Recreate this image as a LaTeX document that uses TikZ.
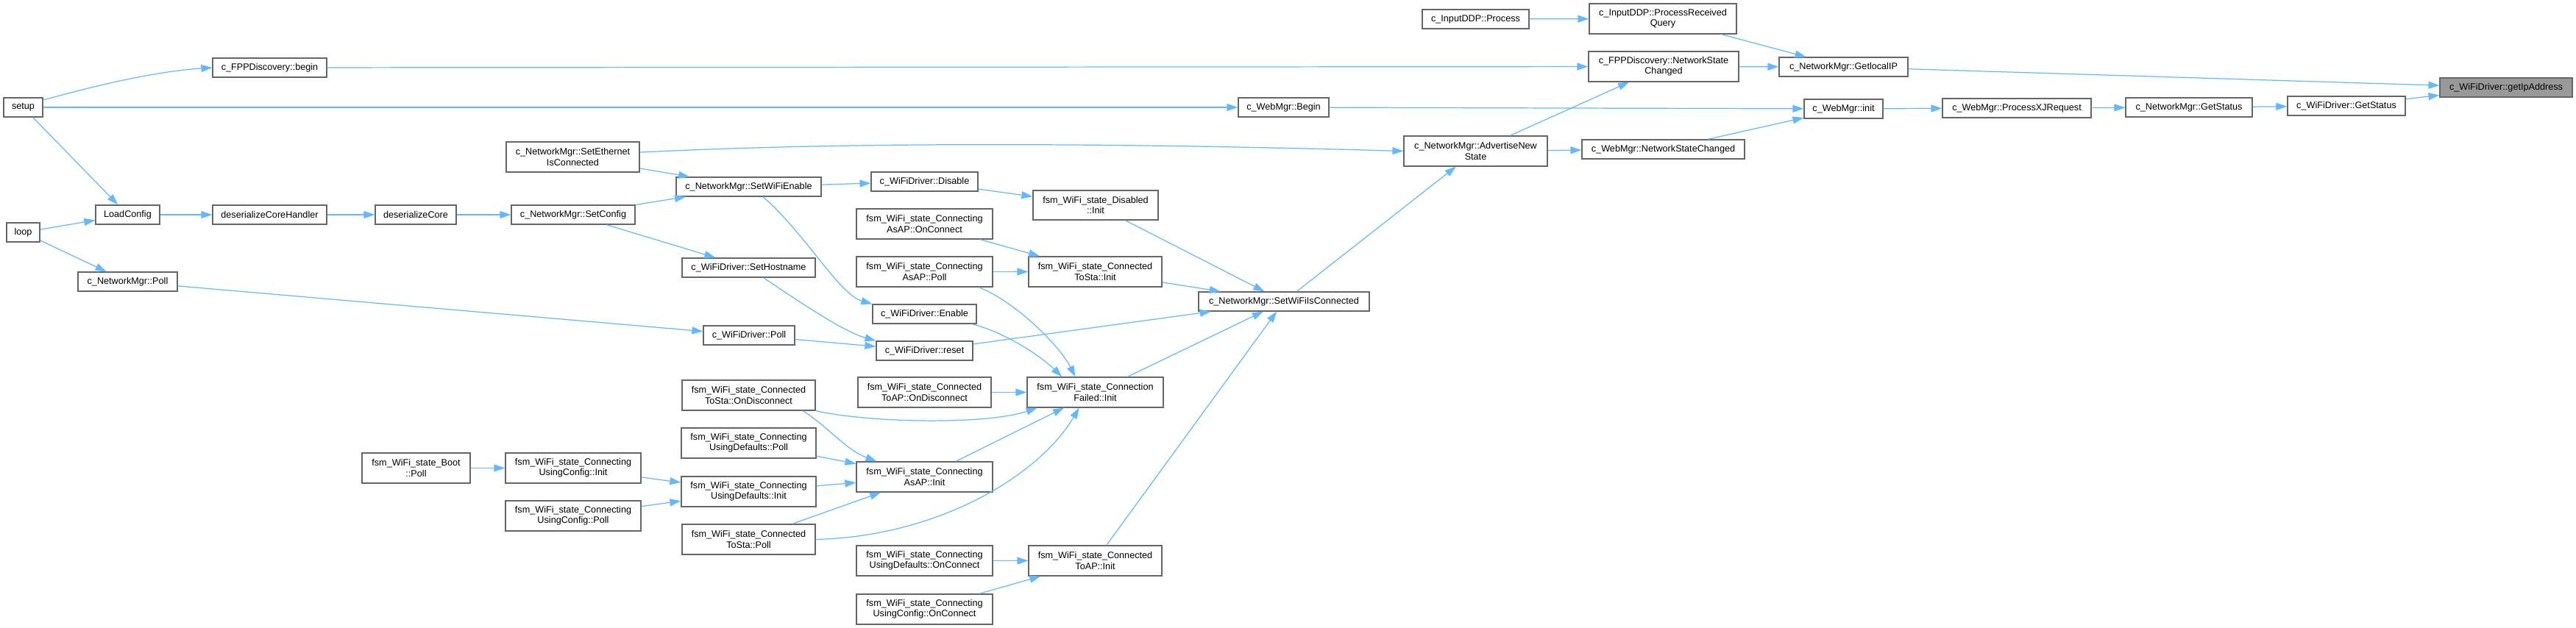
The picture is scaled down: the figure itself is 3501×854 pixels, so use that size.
\documentclass[tikz,border=0pt]{standalone}
\usepackage{fontspec}
\setmainfont{Liberation Sans}
\usetikzlibrary{arrows.meta}
\definecolor{cedge}{RGB}{99,184,255}
\definecolor{cborde}{RGB}{102,102,102}
\definecolor{csel}{RGB}{153,153,153}

\begin{document}
\begin{tikzpicture}[x=0.02cm, y=-0.02cm, >={Triangle[length=0.3cm, width=0.2cm]},
    fn/.style={draw=cborde, line width=0.7pt, fill=white, align=center, inner xsep=2pt, inner ysep=0pt,
      minimum height=0.52cm, font=\fontsize{7.2}{8.1}\selectfont},
    fn2/.style={fn, minimum height=0.82cm},
    edge/.style={->, cedge, line width=0.7pt}]

  \useasboundingbox (0,0) rectangle (3501,854);

  \node[fn, minimum width=1.06cm] (setup)   at (31.5,146)   {setup};
  \node[fn, minimum width=0.90cm] (loop)    at (31.5,316)   {loop};
  \node[fn, minimum width=1.74cm] (lc)      at (173.5,292)  {LoadConfig};
  \node[fn, minimum width=2.70cm] (nmpoll)  at (173.5,383)  {c\_NetworkMgr::Poll};
  \node[fn, minimum width=3.10cm] (fbegin)  at (366.5,92)   {c\_FPPDiscovery::begin};
  \node[fn, minimum width=3.10cm] (dch)     at (366.5,292)  {deserializeCoreHandler};
  \node[fn, minimum width=2.20cm] (dc)      at (565,292)    {deserializeCore};
  \node[fn2, minimum width=2.94cm] (bootp)  at (565.5,636.5) {fsm\_WiFi\_state\_Boot\\::Poll};
  \node[fn2, minimum width=3.62cm] (seth)   at (778.5,213.5) {c\_NetworkMgr::SetEthernet\\IsConnected};
  \node[fn, minimum width=3.36cm] (scfg)    at (779,292)    {c\_NetworkMgr::SetConfig};
  \node[fn2, minimum width=3.68cm] (ucinit) at (779,636.5)  {fsm\_WiFi\_state\_Connecting\\UsingConfig::Init};
  \node[fn2, minimum width=3.68cm] (ucpoll) at (779,701.5)  {fsm\_WiFi\_state\_Connecting\\UsingConfig::Poll};
  \node[fn, minimum width=3.94cm] (swe)     at (1017.5,254) {c\_NetworkMgr::SetWiFiEnable};
  \node[fn, minimum width=3.62cm] (shost)   at (1017.5,364) {c\_WiFiDriver::SetHostname};
  \node[fn, minimum width=2.48cm] (wpoll)   at (1018,456)   {c\_WiFiDriver::Poll};
  \node[fn2, minimum width=3.62cm] (ctsod)  at (1017.5,537.5) {fsm\_WiFi\_state\_Connected\\ToSta::OnDisconnect};
  \node[fn2, minimum width=3.66cm] (udpoll) at (1017.5,602.5) {fsm\_WiFi\_state\_Connecting\\UsingDefaults::Poll};
  \node[fn2, minimum width=3.66cm] (udinit) at (1017.5,668.5) {fsm\_WiFi\_state\_Connecting\\UsingDefaults::Init};
  \node[fn2, minimum width=3.62cm] (ctspoll) at (1017.5,733.5) {fsm\_WiFi\_state\_Connected\\ToSta::Poll};
  \node[fn, minimum width=2.90cm] (wdis)    at (1256.5,247) {c\_WiFiDriver::Disable};
  \node[fn2, minimum width=3.70cm] (apconn) at (1256.5,304.5) {fsm\_WiFi\_state\_Connecting\\AsAP::OnConnect};
  \node[fn2, minimum width=3.70cm] (appoll) at (1256.5,369.5) {fsm\_WiFi\_state\_Connecting\\AsAP::Poll};
  \node[fn, minimum width=2.82cm] (wen)     at (1256.5,427) {c\_WiFiDriver::Enable};
  \node[fn, minimum width=2.62cm] (wreset)  at (1256.5,477) {c\_WiFiDriver::reset};
  \node[fn2, minimum width=3.62cm] (ctaod)  at (1256.5,533.5) {fsm\_WiFi\_state\_Connected\\ToAP::OnDisconnect};
  \node[fn2, minimum width=3.70cm] (apinit) at (1256.5,648.5) {fsm\_WiFi\_state\_Connecting\\AsAP::Init};
  \node[fn2, minimum width=3.70cm] (udconn) at (1256.5,762.5) {fsm\_WiFi\_state\_Connecting\\UsingDefaults::OnConnect};
  \node[fn2, minimum width=3.70cm] (ucconn) at (1256.5,828.5) {fsm\_WiFi\_state\_Connecting\\UsingConfig::OnConnect};
  \node[fn2, minimum width=3.40cm, minimum height=0.80cm] (disinit) at (1489,279) {fsm\_WiFi\_state\_Disabled\\::Init};
  \node[fn2, minimum width=3.62cm] (ctsinit) at (1488.5,369.5) {fsm\_WiFi\_state\_Connected\\ToSta::Init};
  \node[fn2, minimum width=3.70cm] (cfinit) at (1488.5,533.5) {fsm\_WiFi\_state\_Connection\\Failed::Init};
  \node[fn2, minimum width=3.62cm] (ctainit) at (1488.5,762.5) {fsm\_WiFi\_state\_Connected\\ToAP::Init};
  \node[fn, minimum width=2.46cm] (wbegin)  at (1744.5,146) {c\_WebMgr::Begin};
  \node[fn, minimum width=4.64cm] (swic)    at (1745,410)   {c\_NetworkMgr::SetWiFiIsConnected};
  \node[fn, minimum width=2.90cm] (ddp)     at (2005.5,26)  {c\_InputDDP::Process};
  \node[fn2, minimum width=3.90cm] (adv)    at (2005.5,205.5) {c\_NetworkMgr::AdvertiseNew\\State};
  \node[fn2, minimum width=4.00cm] (prq)    at (2260,25.5)  {c\_InputDDP::ProcessReceived\\Query};
  \node[fn2, minimum width=4.08cm] (fnsc)   at (2261,90.5)  {c\_FPPDiscovery::NetworkState\\Changed};
  \node[fn, minimum width=4.42cm] (wnsc)    at (2260.5,203) {c\_WebMgr::NetworkStateChanged};
  \node[fn, minimum width=3.50cm] (glip)    at (2505.5,91)  {c\_NetworkMgr::GetlocalIP};
  \node[fn, minimum width=2.14cm] (winit)   at (2505.5,148) {c\_WebMgr::init};
  \node[fn, minimum width=4.04cm] (pxj)     at (2741,147)   {c\_WebMgr::ProcessXJRequest};
  \node[fn, minimum width=3.44cm] (nmstat)  at (2975,146)   {c\_NetworkMgr::GetStatus};
  \node[fn, minimum width=3.20cm] (wstat)   at (3189,144)   {c\_WiFiDriver::GetStatus};
  \node[fn, minimum width=3.60cm, fill=csel] (gip) at (3406,119) {c\_WiFiDriver::getIpAddress};

  % straight calls
  \foreach \a/\b in {setup/lc, setup/wbegin, loop/lc, loop/nmpoll, fbegin/fnsc, lc/dch, dch/dc, dc/scfg,
      nmpoll/wpoll, seth/swe, scfg/swe, scfg/shost, swe/wdis, wpoll/wreset, wdis/disinit,
      apconn/ctsinit, appoll/ctsinit, wreset/swic, ctaod/cfinit, udpoll/apinit, udinit/apinit,
      ctspoll/apinit, apinit/cfinit, bootp/ucinit, ucinit/udinit, ucpoll/udinit, udconn/ctainit,
      ucconn/ctainit, disinit/swic, ctsinit/swic, cfinit/swic, ctainit/swic, swic/adv, adv/fnsc,
      adv/wnsc, ddp/prq, prq/glip, fnsc/glip, glip/gip, wbegin/winit, wnsc/winit, winit/pxj,
      pxj/nmstat, nmstat/wstat, wstat/gip}
    \draw[edge] (\a) -- (\b);

  % curved calls
  \draw[edge] (setup.20) .. controls (110,122) and (200,98) .. (fbegin.west);
  \draw[edge] (seth.4) .. controls (1150,193) and (1500,194) .. (adv.west);
  \draw[edge] (swe.-35) .. controls (1095,318) and (1140,400) .. (wen.north west);
  \draw[edge] (shost.-34) .. controls (1100,420) and (1150,452) .. (wreset.north west);
  \draw[edge] (appoll.-16) .. controls (1380,410) and (1440,470) .. (cfinit.142);
  \draw[edge] (wen.-12) .. controls (1360,450) and (1410,480) .. (cfinit.155);
  \draw[edge] (ctsod.south east) .. controls (1180,575) and (1340,578) .. (cfinit.195);
  \draw[edge] (ctsod.-16) .. controls (1125,580) and (1150,612) .. (apinit.162);
  \draw[edge] (ctspoll.east) .. controls (1270,730) and (1410,650) .. (cfinit.224);
\end{tikzpicture}
\end{document}
